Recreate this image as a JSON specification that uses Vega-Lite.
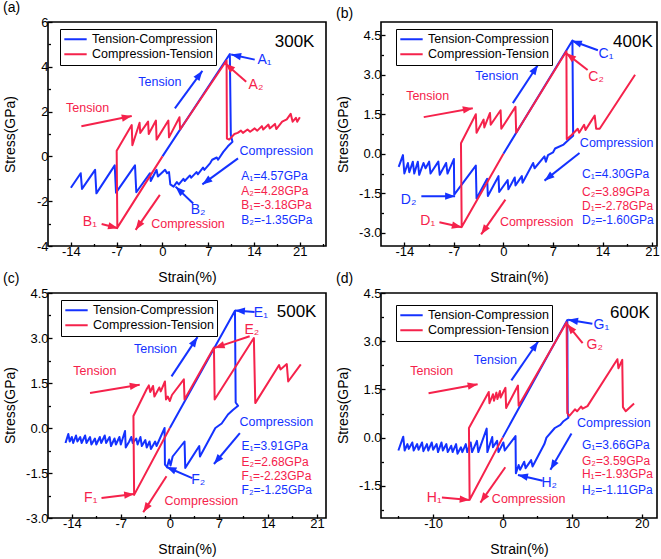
{
"$schema": "https://vega.github.io/schema/vega-lite/v6.json",
"padding": {"left": 2, "top": 0, "right": 0, "bottom": 0},
"bounds": "flush",
"columns": 2,
"spacing": {"row": 47, "column": 55},
"resolve": {"scale": {"color": "independent"}, "legend": {"color": "independent"}},
"config": {
  "font": "Liberation Sans",
  "view": {"stroke": "black", "strokeWidth": 1.6},
  "axis": {"grid": false, "domain": false, "tickColor": "black", "tickSize": -4, "tickWidth": 1.3, "labelFontSize": 13, "labelColor": "black", "titleFontSize": 14, "titleFontWeight": "normal", "titleColor": "black", "labelPadding": 4},
  "axisX": {"titlePadding": 12, "labelPadding": 3},
  "axisY": {"titleX": -38, "titleY": 112, "titleBaseline": "middle", "titleAlign": "center", "titleAngle": -90},
  "title": {"fontSize": 14, "fontWeight": "normal", "color": "black", "anchor": "start", "frame": "group", "dx": -45, "offset": 1},
  "legend": {"title": null, "orient": "none", "strokeColor": "black", "fillColor": "white", "padding": 3, "labelFontSize": 12.5, "labelColor": "black", "symbolType": "stroke", "symbolSize": 500, "symbolStrokeWidth": 2, "clipHeight": 14.5, "rowPadding": 0, "labelOffset": 4}
},
"datasets": {
"la": [
{"s":"TC","x":-14,"y":-1.4},{"s":"TC","x":-12.5,"y":-0.75},{"s":"TC","x":-12.3,"y":-1.45},{"s":"TC","x":-10.3,"y":-0.6},{"s":"TC","x":-10.1,"y":-1.65},{"s":"TC","x":-7.3,"y":-0.4},{"s":"TC","x":-7.1,"y":-1.62},{"s":"TC","x":-4.2,"y":-0.4},{"s":"TC","x":-4.0,"y":-1.6},{"s":"TC","x":-1.9,"y":-0.75},{"s":"TC","x":-1.8,"y":-1.1},{"s":"TC","x":-0.9,"y":-0.6},{"s":"TC","x":-0.7,"y":-0.9},{"s":"TC","x":0.4,"y":-0.6},{"s":"TC","x":0.7,"y":-0.75},{"s":"TC","x":1.0,"y":-0.7},{"s":"TC","x":1.2,"y":-1.25},{"s":"TC","x":1.7,"y":-1.35},{"s":"TC","x":2.2,"y":-1.15},{"s":"TC","x":2.5,"y":-1.25},{"s":"TC","x":3.2,"y":-1.0},{"s":"TC","x":3.4,"y":-1.1},{"s":"TC","x":4.2,"y":-0.85},{"s":"TC","x":4.4,"y":-0.95},{"s":"TC","x":5.2,"y":-0.7},{"s":"TC","x":5.4,"y":-0.8},{"s":"TC","x":6.2,"y":-0.5},{"s":"TC","x":6.4,"y":-0.6},{"s":"TC","x":7.3,"y":-0.3},{"s":"TC","x":7.6,"y":-0.15},{"s":"TC","x":8.3,"y":-0.05},{"s":"TC","x":8.5,"y":-0.15},{"s":"TC","x":9.3,"y":0.2},{"s":"TC","x":10.0,"y":0.45},{"s":"TC","x":10.7,"y":0.65},{"s":"TC","x":10.45,"y":0.95},{"s":"TC","x":10.3,"y":4.57},{"s":"TC","x":0,"y":0},
{"s":"CT","x":0,"y":0},{"s":"CT","x":-6.9,"y":-3.18},{"s":"CT","x":-7.0,"y":0.25},{"s":"CT","x":-4.7,"y":1.4},{"s":"CT","x":-4.6,"y":0.5},{"s":"CT","x":-3.5,"y":1.5},{"s":"CT","x":-3.4,"y":1.05},{"s":"CT","x":-2.2,"y":1.55},{"s":"CT","x":-2.1,"y":1.0},{"s":"CT","x":-1.0,"y":1.6},{"s":"CT","x":-0.9,"y":0.75},{"s":"CT","x":0.9,"y":1.6},{"s":"CT","x":1.0,"y":0.85},{"s":"CT","x":2.6,"y":1.75},{"s":"CT","x":2.7,"y":1.2},{"s":"CT","x":9.8,"y":4.28},{"s":"CT","x":9.85,"y":0.8},{"s":"CT","x":10.2,"y":0.75},{"s":"CT","x":11.0,"y":1.0},{"s":"CT","x":11.5,"y":1.05},{"s":"CT","x":12.0,"y":1.15},{"s":"CT","x":12.3,"y":1.05},{"s":"CT","x":13.0,"y":1.2},{"s":"CT","x":13.4,"y":1.1},{"s":"CT","x":14.1,"y":1.25},{"s":"CT","x":14.5,"y":1.15},{"s":"CT","x":15.2,"y":1.35},{"s":"CT","x":15.4,"y":1.2},{"s":"CT","x":16.2,"y":1.42},{"s":"CT","x":16.4,"y":1.25},{"s":"CT","x":17.2,"y":1.45},{"s":"CT","x":17.4,"y":1.22},{"s":"CT","x":18.3,"y":1.55},{"s":"CT","x":19.0,"y":1.65},{"s":"CT","x":19.6,"y":1.9},{"s":"CT","x":19.9,"y":1.55},{"s":"CT","x":20.4,"y":1.72},{"s":"CT","x":20.6,"y":1.55},{"s":"CT","x":21.0,"y":1.75}
],
"lb": [
{"s":"TC","x":-14.8,"y":-0.5},{"s":"TC","x":-14.2,"y":-0.05},{"s":"TC","x":-14.0,"y":-0.75},{"s":"TC","x":-13.5,"y":-0.35},{"s":"TC","x":-13.3,"y":-0.7},{"s":"TC","x":-12.8,"y":-0.3},{"s":"TC","x":-12.6,"y":-0.75},{"s":"TC","x":-12.1,"y":-0.3},{"s":"TC","x":-11.9,"y":-0.8},{"s":"TC","x":-11.3,"y":-0.35},{"s":"TC","x":-11.0,"y":-0.55},{"s":"TC","x":-10.5,"y":-0.3},{"s":"TC","x":-10.3,"y":-0.75},{"s":"TC","x":-9.2,"y":-0.3},{"s":"TC","x":-9.0,"y":-0.8},{"s":"TC","x":-8.1,"y":-0.35},{"s":"TC","x":-7.9,"y":-0.75},{"s":"TC","x":-7.0,"y":-0.2},{"s":"TC","x":-6.95,"y":-1.55},{"s":"TC","x":-3.9,"y":-0.45},{"s":"TC","x":-3.8,"y":-1.7},{"s":"TC","x":-2.3,"y":-0.95},{"s":"TC","x":-2.2,"y":-1.6},{"s":"TC","x":-0.7,"y":-0.85},{"s":"TC","x":-0.6,"y":-1.45},{"s":"TC","x":0.6,"y":-1.0},{"s":"TC","x":0.7,"y":-1.35},{"s":"TC","x":1.6,"y":-0.9},{"s":"TC","x":1.7,"y":-1.2},{"s":"TC","x":2.6,"y":-0.85},{"s":"TC","x":2.7,"y":-1.1},{"s":"TC","x":4.2,"y":-0.35},{"s":"TC","x":4.4,"y":-0.55},{"s":"TC","x":5.8,"y":-0.1},{"s":"TC","x":6.0,"y":-0.3},{"s":"TC","x":6.3,"y":-0.05},{"s":"TC","x":7.0,"y":0.05},{"s":"TC","x":7.3,"y":0.2},{"s":"TC","x":8.5,"y":0.35},{"s":"TC","x":9.3,"y":0.55},{"s":"TC","x":9.85,"y":0.68},{"s":"TC","x":9.75,"y":4.3},{"s":"TC","x":0,"y":0},
{"s":"CT","x":0,"y":0},{"s":"CT","x":-5.9,"y":-2.78},{"s":"CT","x":-6.0,"y":0.4},{"s":"CT","x":-3.9,"y":1.5},{"s":"CT","x":-3.8,"y":0.8},{"s":"CT","x":-2.8,"y":1.3},{"s":"CT","x":-2.7,"y":1.0},{"s":"CT","x":-1.9,"y":1.55},{"s":"CT","x":-1.8,"y":1.1},{"s":"CT","x":-0.4,"y":1.65},{"s":"CT","x":-0.3,"y":0.95},{"s":"CT","x":1.7,"y":1.78},{"s":"CT","x":1.8,"y":0.8},{"s":"CT","x":8.9,"y":3.89},{"s":"CT","x":8.95,"y":0.55},{"s":"CT","x":9.6,"y":0.7},{"s":"CT","x":10.5,"y":0.95},{"s":"CT","x":10.7,"y":0.8},{"s":"CT","x":11.4,"y":1.1},{"s":"CT","x":11.6,"y":0.9},{"s":"CT","x":12.3,"y":1.2},{"s":"CT","x":12.9,"y":1.45},{"s":"CT","x":13.1,"y":0.95},{"s":"CT","x":13.6,"y":0.95},{"s":"CT","x":18.6,"y":3.0}
],
"lc": [
{"s":"TC","x":-14.9,"y":-0.5},{"s":"TC","x":-14.5,"y":-0.2},{"s":"TC","x":-14.3,"y":-0.45},{"s":"TC","x":-14.0,"y":-0.3},{"s":"TC","x":-13.8,"y":-0.5},{"s":"TC","x":-13.4,"y":-0.25},{"s":"TC","x":-13.2,"y":-0.45},{"s":"TC","x":-12.8,"y":-0.3},{"s":"TC","x":-12.6,"y":-0.5},{"s":"TC","x":-12.1,"y":-0.25},{"s":"TC","x":-11.9,"y":-0.5},{"s":"TC","x":-11.4,"y":-0.3},{"s":"TC","x":-11.2,"y":-0.55},{"s":"TC","x":-10.7,"y":-0.35},{"s":"TC","x":-10.5,"y":-0.55},{"s":"TC","x":-10.0,"y":-0.3},{"s":"TC","x":-9.8,"y":-0.5},{"s":"TC","x":-9.3,"y":-0.25},{"s":"TC","x":-9.1,"y":-0.5},{"s":"TC","x":-8.6,"y":-0.3},{"s":"TC","x":-8.4,"y":-0.6},{"s":"TC","x":-7.9,"y":-0.35},{"s":"TC","x":-7.7,"y":-0.55},{"s":"TC","x":-7.2,"y":-0.3},{"s":"TC","x":-7.0,"y":-0.55},{"s":"TC","x":-6.4,"y":-0.1},{"s":"TC","x":-6.3,"y":-0.65},{"s":"TC","x":-5.8,"y":-0.45},{"s":"TC","x":-5.5,"y":-0.3},{"s":"TC","x":-5.3,"y":-0.5},{"s":"TC","x":-4.8,"y":-0.35},{"s":"TC","x":-4.6,"y":-0.55},{"s":"TC","x":-4.2,"y":-0.3},{"s":"TC","x":-4.0,"y":-0.6},{"s":"TC","x":-3.5,"y":-0.4},{"s":"TC","x":-3.3,"y":-0.65},{"s":"TC","x":-2.9,"y":-0.45},{"s":"TC","x":-2.7,"y":-0.7},{"s":"TC","x":-2.1,"y":-0.45},{"s":"TC","x":-1.9,"y":-0.6},{"s":"TC","x":-0.75,"y":0.0},{"s":"TC","x":-0.7,"y":-1.22},{"s":"TC","x":-0.4,"y":-1.3},{"s":"TC","x":-0.1,"y":-1.05},{"s":"TC","x":0.1,"y":-1.25},{"s":"TC","x":0.4,"y":-0.95},{"s":"TC","x":2.1,"y":-0.45},{"s":"TC","x":2.2,"y":-1.33},{"s":"TC","x":4.2,"y":-0.6},{"s":"TC","x":4.3,"y":-0.95},{"s":"TC","x":6.5,"y":0.0},{"s":"TC","x":7.1,"y":0.1},{"s":"TC","x":7.4,"y":0.15},{"s":"TC","x":8.3,"y":0.45},{"s":"TC","x":9.0,"y":0.6},{"s":"TC","x":9.75,"y":0.74},{"s":"TC","x":9.4,"y":0.85},{"s":"TC","x":9.3,"y":3.91},{"s":"TC","x":0,"y":0},
{"s":"CT","x":0,"y":0},{"s":"CT","x":-5.1,"y":-2.23},{"s":"CT","x":-5.2,"y":0.4},{"s":"CT","x":-3.3,"y":1.3},{"s":"CT","x":-3.0,"y":1.42},{"s":"CT","x":-2.8,"y":1.2},{"s":"CT","x":-2.4,"y":1.4},{"s":"CT","x":-2.2,"y":1.05},{"s":"CT","x":-1.5,"y":1.35},{"s":"CT","x":-1.3,"y":1.22},{"s":"CT","x":-0.7,"y":1.55},{"s":"CT","x":-0.55,"y":0.95},{"s":"CT","x":-0.3,"y":1.05},{"s":"CT","x":0.0,"y":0.9},{"s":"CT","x":0.3,"y":1.1},{"s":"CT","x":2.0,"y":1.62},{"s":"CT","x":2.1,"y":0.95},{"s":"CT","x":6.3,"y":2.68},{"s":"CT","x":6.4,"y":0.95},{"s":"CT","x":12.0,"y":3.0},{"s":"CT","x":12.2,"y":0.83},{"s":"CT","x":15.6,"y":2.1},{"s":"CT","x":15.8,"y":1.95},{"s":"CT","x":16.7,"y":2.13},{"s":"CT","x":16.9,"y":1.55},{"s":"CT","x":18.7,"y":2.12}
],
"ld": [
{"s":"TC","x":-15.0,"y":-0.4},{"s":"TC","x":-14.3,"y":0.03},{"s":"TC","x":-14.1,"y":-0.4},{"s":"TC","x":-13.7,"y":-0.2},{"s":"TC","x":-13.5,"y":-0.35},{"s":"TC","x":-13.0,"y":-0.15},{"s":"TC","x":-12.8,"y":-0.4},{"s":"TC","x":-12.3,"y":-0.2},{"s":"TC","x":-12.1,"y":-0.38},{"s":"TC","x":-11.6,"y":-0.15},{"s":"TC","x":-11.4,"y":-0.42},{"s":"TC","x":-10.9,"y":-0.2},{"s":"TC","x":-10.7,"y":-0.4},{"s":"TC","x":-10.2,"y":-0.15},{"s":"TC","x":-10.0,"y":-0.38},{"s":"TC","x":-9.5,"y":-0.2},{"s":"TC","x":-9.3,"y":-0.45},{"s":"TC","x":-8.8,"y":-0.15},{"s":"TC","x":-8.6,"y":-0.4},{"s":"TC","x":-8.1,"y":-0.2},{"s":"TC","x":-7.9,"y":-0.45},{"s":"TC","x":-7.4,"y":-0.25},{"s":"TC","x":-7.2,"y":-0.45},{"s":"TC","x":-6.7,"y":-0.2},{"s":"TC","x":-6.5,"y":-0.5},{"s":"TC","x":-6.0,"y":-0.3},{"s":"TC","x":-5.8,"y":-0.45},{"s":"TC","x":-5.3,"y":-0.2},{"s":"TC","x":-5.1,"y":-0.45},{"s":"TC","x":-4.6,"y":-0.15},{"s":"TC","x":-4.4,"y":-0.45},{"s":"TC","x":-3.7,"y":-0.1},{"s":"TC","x":-3.5,"y":-0.45},{"s":"TC","x":-2.3,"y":0.28},{"s":"TC","x":-2.2,"y":-0.45},{"s":"TC","x":-1.5,"y":0.02},{"s":"TC","x":-1.4,"y":-0.3},{"s":"TC","x":-0.8,"y":-0.1},{"s":"TC","x":-0.6,"y":-0.45},{"s":"TC","x":0.1,"y":-0.15},{"s":"TC","x":0.3,"y":-0.4},{"s":"TC","x":1.85,"y":0.05},{"s":"TC","x":1.9,"y":-1.11},{"s":"TC","x":2.3,"y":-0.85},{"s":"TC","x":2.5,"y":-1.0},{"s":"TC","x":3.1,"y":-0.75},{"s":"TC","x":3.3,"y":-0.95},{"s":"TC","x":4.1,"y":-0.7},{"s":"TC","x":4.3,"y":-0.9},{"s":"TC","x":6.0,"y":-0.2},{"s":"TC","x":6.3,"y":0.0},{"s":"TC","x":7.5,"y":0.3},{"s":"TC","x":8.3,"y":0.4},{"s":"TC","x":8.7,"y":0.5},{"s":"TC","x":9.45,"y":0.62},{"s":"TC","x":9.35,"y":0.85},{"s":"TC","x":9.3,"y":3.66},{"s":"TC","x":0,"y":0},
{"s":"CT","x":0,"y":0},{"s":"CT","x":-4.75,"y":-1.93},{"s":"CT","x":-4.85,"y":0.3},{"s":"CT","x":-2.0,"y":1.42},{"s":"CT","x":-1.9,"y":1.07},{"s":"CT","x":-1.4,"y":1.35},{"s":"CT","x":-1.25,"y":1.15},{"s":"CT","x":-0.9,"y":1.4},{"s":"CT","x":-0.75,"y":1.2},{"s":"CT","x":-0.4,"y":1.45},{"s":"CT","x":-0.3,"y":1.25},{"s":"CT","x":0.4,"y":1.55},{"s":"CT","x":0.5,"y":0.92},{"s":"CT","x":2.2,"y":1.62},{"s":"CT","x":2.3,"y":0.99},{"s":"CT","x":9.2,"y":3.59},{"s":"CT","x":9.3,"y":0.76},{"s":"CT","x":9.6,"y":0.68},{"s":"CT","x":10.4,"y":0.88},{"s":"CT","x":10.7,"y":0.82},{"s":"CT","x":11.3,"y":0.97},{"s":"CT","x":11.5,"y":0.9},{"s":"CT","x":12.2,"y":0.98},{"s":"CT","x":16.5,"y":2.44},{"s":"CT","x":16.65,"y":2.16},{"s":"CT","x":17.2,"y":2.42},{"s":"CT","x":17.3,"y":0.95},{"s":"CT","x":17.7,"y":0.82},{"s":"CT","x":18.9,"y":1.06}
],
"aa": [
{"s":"b","x":10.5,"y":4.55,"x0":14.1,"y0":4.32},
{"s":"r","x":9.6,"y":4.15,"x0":12.8,"y0":3.33},
{"s":"b","x":6.1,"y":3.82,"x0":1.9,"y0":2.14},
{"s":"r","x":-4.7,"y":1.8,"x0":-12.4,"y0":1.35},
{"s":"b","x":6.1,"y":-1.25,"x0":11.55,"y0":-0.09},
{"s":"b","x":2.0,"y":-1.35,"x0":4.7,"y0":-2.1},
{"s":"r","x":-6.8,"y":-3.21,"x0":-9.3,"y0":-3.02},
{"s":"r","x":-4.1,"y":-3.28,"x0":-0.4,"y0":-1.72}
],
"ab": [
{"s":"b","x":9.67,"y":4.29,"x0":13.35,"y0":3.93},
{"s":"r","x":8.87,"y":3.81,"x0":11.9,"y0":3.18},
{"s":"b","x":4.87,"y":3.37,"x0":1.33,"y0":1.92},
{"s":"r","x":-4.33,"y":1.73,"x0":-11.26,"y0":1.39},
{"s":"b","x":5.8,"y":-1.02,"x0":10.75,"y0":0.03},
{"s":"b","x":-6.83,"y":-1.61,"x0":-11.6,"y0":-1.61},
{"s":"r","x":-5.88,"y":-2.79,"x0":-9.05,"y0":-2.6},
{"s":"r","x":-3.15,"y":-3.06,"x0":0.28,"y0":-1.74}
],
"ac": [
{"s":"b","x":9.3,"y":3.92,"x0":12.1,"y0":3.87},
{"s":"r","x":6.4,"y":2.67,"x0":11.4,"y0":3.06},
{"s":"b","x":3.95,"y":3.03,"x0":0.24,"y0":1.72},
{"s":"r","x":-4.3,"y":1.44,"x0":-11.4,"y0":1.17},
{"s":"b","x":6.3,"y":-1.2,"x0":10.0,"y0":-0.17},
{"s":"b","x":-0.48,"y":-1.3,"x0":3.2,"y0":-1.67},
{"s":"r","x":-5.1,"y":-2.2,"x0":-9.76,"y0":-2.33},
{"s":"r","x":-3.8,"y":-2.81,"x0":-0.48,"y0":-1.61}
],
"ad": [
{"s":"b","x":9.41,"y":3.67,"x0":12.9,"y0":3.54},
{"s":"r","x":9.27,"y":3.53,"x0":11.5,"y0":2.94},
{"s":"b","x":5.1,"y":2.99,"x0":1.25,"y0":1.78},
{"s":"r","x":-3.6,"y":1.66,"x0":-10.66,"y0":1.38},
{"s":"b","x":6.87,"y":-1.0,"x0":9.9,"y0":0.13},
{"s":"b","x":2.2,"y":-1.16,"x0":5.76,"y0":-1.34},
{"s":"r","x":-4.75,"y":-1.94,"x0":-8.74,"y0":-1.86},
{"s":"r","x":-3.2,"y":-2.02,"x0":0.38,"y0":-0.92}
],
"ta": [
{"k":"T","s":"k","t":"300K","x":20.2,"y":5.11},
{"k":"L","s":"b","t":"A₁","x":15.6,"y":4.29},
{"k":"L","s":"r","t":"A₂","x":14.3,"y":3.2},
{"k":"P","s":"b","t":"Tension","x":-0.4,"y":3.33},
{"k":"P","s":"r","t":"Tension","x":-11.45,"y":2.18},
{"k":"P","s":"b","t":"Compression","x":17.4,"y":0.25},
{"k":"L","s":"b","t":"B₂","x":5.45,"y":-2.39},
{"k":"L","s":"r","t":"B₁","x":-11.1,"y":-2.91},
{"k":"P","s":"r","t":"Compression","x":3.9,"y":-3.03},
{"k":"V","s":"b","t":"A₁=4.57GPa","x":12.06,"y":-0.86},
{"k":"V","s":"r","t":"A₂=4.28GPa","x":12.06,"y":-1.53},
{"k":"V","s":"r","t":"B₁=-3.18GPa","x":12.06,"y":-2.19},
{"k":"V","s":"b","t":"B₂=-1.35GPa","x":12.06,"y":-2.84}
],
"tb": [
{"k":"T","s":"k","t":"400K","x":18.3,"y":4.25},
{"k":"L","s":"b","t":"C₁","x":14.5,"y":3.78},
{"k":"L","s":"r","t":"C₂","x":13.1,"y":2.93},
{"k":"P","s":"b","t":"Tension","x":-0.93,"y":2.95},
{"k":"P","s":"r","t":"Tension","x":-10.7,"y":2.19},
{"k":"P","s":"b","t":"Compression","x":16.0,"y":0.4},
{"k":"L","s":"b","t":"D₂","x":-13.4,"y":-1.74},
{"k":"L","s":"r","t":"D₁","x":-10.7,"y":-2.56},
{"k":"P","s":"r","t":"Compression","x":4.7,"y":-2.6},
{"k":"V","s":"b","t":"C₁=4.30GPa","x":11.1,"y":-0.77},
{"k":"V","s":"r","t":"C₂=3.89GPa","x":11.1,"y":-1.45},
{"k":"V","s":"r","t":"D₁=-2.78GPa","x":11.1,"y":-1.99},
{"k":"V","s":"b","t":"D₂=-1.60GPa","x":11.1,"y":-2.5}
],
"tc": [
{"k":"T","s":"k","t":"500K","x":18.1,"y":3.87},
{"k":"L","s":"b","t":"E₁","x":13.0,"y":3.83},
{"k":"L","s":"r","t":"E₂","x":11.7,"y":3.28},
{"k":"P","s":"b","t":"Tension","x":-2.05,"y":2.63},
{"k":"P","s":"r","t":"Tension","x":-10.7,"y":1.91},
{"k":"P","s":"b","t":"Compression","x":15.2,"y":0.19},
{"k":"L","s":"b","t":"F₂","x":4.05,"y":-1.72},
{"k":"L","s":"r","t":"F₁","x":-11.3,"y":-2.33},
{"k":"P","s":"r","t":"Compression","x":4.5,"y":-2.44},
{"k":"V","s":"b","t":"E₁=3.91GPa","x":10.24,"y":-0.61},
{"k":"V","s":"r","t":"E₂=2.68GPa","x":10.24,"y":-1.12},
{"k":"V","s":"r","t":"F₁=-2.23GPa","x":10.24,"y":-1.61},
{"k":"V","s":"b","t":"F₂=-1.25GPa","x":10.24,"y":-2.08}
],
"td": [
{"k":"T","s":"k","t":"600K","x":18.3,"y":3.89},
{"k":"L","s":"b","t":"G₁","x":14.2,"y":3.51},
{"k":"L","s":"r","t":"G₂","x":13.25,"y":2.89},
{"k":"P","s":"b","t":"Tension","x":-1.06,"y":2.42},
{"k":"P","s":"r","t":"Tension","x":-10.2,"y":2.08},
{"k":"P","s":"b","t":"Compression","x":16.0,"y":0.47},
{"k":"L","s":"b","t":"H₂","x":6.7,"y":-1.4},
{"k":"L","s":"r","t":"H₁","x":-9.84,"y":-1.89},
{"k":"P","s":"r","t":"Compression","x":3.74,"y":-1.92},
{"k":"V","s":"b","t":"G₁=3.66GPa","x":11.4,"y":-0.23},
{"k":"V","s":"r","t":"G₂=3.59GPa","x":11.4,"y":-0.72},
{"k":"V","s":"r","t":"H₁=-1.93GPa","x":11.4,"y":-1.14},
{"k":"V","s":"b","t":"H₂=-1.11GPa","x":11.4,"y":-1.63}
]
},
"concat": [
{
 "name": "pa", "width": 278, "height": 224,
 "title": {"text": "(a)"},
 "resolve": {"axis": {"x": "independent", "y": "independent"}},
 "encoding": {
  "x": {"field": "x", "type": "quantitative", "scale": {"domain": [-17.5, 25], "nice": false, "zero": false}, "axis": null},
  "y": {"field": "y", "type": "quantitative", "scale": {"domain": [-4, 6], "nice": false, "zero": false}, "axis": null}
 },
 "layer": [
  {"data": {"name": "la"}, "mark": {"type": "line", "strokeWidth": 2, "strokeJoin": "round"}, "encoding": {
    "x": {"field": "x", "type": "quantitative", "scale": {"domain": [-17.5, 25], "nice": false, "zero": false}, "axis": {"orient": "bottom", "title": "Strain(%)", "values": [-14, -7, 0, 7, 14, 21], "labelExpr": "replace(datum.label, '−', '-')"}},
    "y": {"field": "y", "type": "quantitative", "scale": {"domain": [-4, 6], "nice": false, "zero": false}, "axis": {"orient": "left", "title": "Stress(GPa)", "values": [-4, -2, 0, 2, 4, 6], "labelExpr": "replace(datum.label, '−', '-')"}},
    "order": {"value": null}, "color": {"field": "s", "type": "nominal", "scale": {"domain": ["TC", "CT"], "range": ["#1432ff", "#f5224b"]}, "legend": {"legendX": 12, "legendY": 7, "labelExpr": "datum.label == 'TC' ? 'Tension-Compression' : 'Compression-Tension'"}}}},
  {"data": {"name": "aa"}, "mark": {"type": "rule", "strokeWidth": 2}, "encoding": {"x2": {"field": "x0"}, "y2": {"field": "y0"}, "color": {"condition": {"test": "datum.s === 'b'", "value": "#1432ff"}, "value": "#f5224b"}}},
  {"data": {"name": "aa"}, "transform": [{"calculate": "atan2((datum.x - datum.x0) * 6.541, (datum.y - datum.y0) * 22.4) * 180 / PI", "as": "ang"}], "mark": {"type": "point", "shape": "M0,0L0.7,1.9L-0.7,1.9Z", "filled": true, "size": 110, "opacity": 1}, "encoding": {"angle": {"field": "ang", "type": "quantitative", "scale": null}, "color": {"condition": {"test": "datum.s === 'b'", "value": "#1432ff"}, "value": "#f5224b"}}},
  {"data": {"name": "ta"}, "transform": [{"filter": "datum.k !== 'V'"}], "mark": {"type": "text"}, "encoding": {"text": {"field": "t"}, "size": {"condition": [{"test": "datum.k === 'T'", "value": 17}, {"test": "datum.k === 'L'", "value": 14}], "value": 12.5}, "color": {"condition": [{"test": "datum.s === 'b'", "value": "#1432ff"}, {"test": "datum.s === 'r'", "value": "#f5224b"}], "value": "black"}}},
  {"data": {"name": "ta"}, "transform": [{"filter": "datum.k === 'V'"}], "mark": {"type": "text", "align": "left", "fontSize": 12}, "encoding": {
    "x": {"field": "x", "type": "quantitative", "scale": {"domain": [-17.5, 25], "nice": false, "zero": false}, "axis": {"orient": "bottom", "title": null, "labels": false, "tickSize": -2.5, "values": [-10.5, -3.5, 3.5, 10.5, 17.5, 24.5]}},
    "y": {"field": "y", "type": "quantitative", "scale": {"domain": [-4, 6], "nice": false, "zero": false}, "axis": {"orient": "left", "title": null, "labels": false, "tickSize": -2.5, "values": [-3, -1, 1, 3, 5]}},
    "text": {"field": "t"}, "color": {"condition": {"test": "datum.s === 'b'", "value": "#1432ff"}, "value": "#f5224b"}}}
 ]
},
{
 "name": "pb", "width": 276, "height": 224,
 "title": {"text": "(b)"},
 "resolve": {"axis": {"x": "independent", "y": "independent"}},
 "encoding": {
  "x": {"field": "x", "type": "quantitative", "scale": {"domain": [-17.3, 21.7], "nice": false, "zero": false}, "axis": null},
  "y": {"field": "y", "type": "quantitative", "scale": {"domain": [-3.5, 5], "nice": false, "zero": false}, "axis": null}
 },
 "layer": [
  {"data": {"name": "lb"}, "mark": {"type": "line", "strokeWidth": 2, "strokeJoin": "round"}, "encoding": {
    "x": {"field": "x", "type": "quantitative", "scale": {"domain": [-17.3, 21.7], "nice": false, "zero": false}, "axis": {"orient": "bottom", "title": "Strain(%)", "values": [-14, -7, 0, 7, 14, 21], "labelExpr": "replace(datum.label, '−', '-')"}},
    "y": {"field": "y", "type": "quantitative", "scale": {"domain": [-3.5, 5], "nice": false, "zero": false}, "axis": {"orient": "left", "title": "Stress(GPa)", "values": [-3, -1.5, 0, 1.5, 3, 4.5], "labelExpr": "replace(format(datum.value, '.1f'), '−', '-')"}},
    "order": {"value": null}, "color": {"field": "s", "type": "nominal", "scale": {"domain": ["TC", "CT"], "range": ["#1432ff", "#f5224b"]}, "legend": {"legendX": 15, "legendY": 7, "labelExpr": "datum.label == 'TC' ? 'Tension-Compression' : 'Compression-Tension'"}}}},
  {"data": {"name": "ab"}, "mark": {"type": "rule", "strokeWidth": 2}, "encoding": {"x2": {"field": "x0"}, "y2": {"field": "y0"}, "color": {"condition": {"test": "datum.s === 'b'", "value": "#1432ff"}, "value": "#f5224b"}}},
  {"data": {"name": "ab"}, "transform": [{"calculate": "atan2((datum.x - datum.x0) * 7.077, (datum.y - datum.y0) * 26.35) * 180 / PI", "as": "ang"}], "mark": {"type": "point", "shape": "M0,0L0.7,1.9L-0.7,1.9Z", "filled": true, "size": 110, "opacity": 1}, "encoding": {"angle": {"field": "ang", "type": "quantitative", "scale": null}, "color": {"condition": {"test": "datum.s === 'b'", "value": "#1432ff"}, "value": "#f5224b"}}},
  {"data": {"name": "tb"}, "transform": [{"filter": "datum.k !== 'V'"}], "mark": {"type": "text"}, "encoding": {"text": {"field": "t"}, "size": {"condition": [{"test": "datum.k === 'T'", "value": 17}, {"test": "datum.k === 'L'", "value": 14}], "value": 12.5}, "color": {"condition": [{"test": "datum.s === 'b'", "value": "#1432ff"}, {"test": "datum.s === 'r'", "value": "#f5224b"}], "value": "black"}}},
  {"data": {"name": "tb"}, "transform": [{"filter": "datum.k === 'V'"}], "mark": {"type": "text", "align": "left", "fontSize": 12}, "encoding": {
    "x": {"field": "x", "type": "quantitative", "scale": {"domain": [-17.3, 21.7], "nice": false, "zero": false}, "axis": {"orient": "bottom", "title": null, "labels": false, "tickSize": -2.5, "values": [-10.5, -3.5, 3.5, 10.5, 17.5]}},
    "y": {"field": "y", "type": "quantitative", "scale": {"domain": [-3.5, 5], "nice": false, "zero": false}, "axis": {"orient": "left", "title": null, "labels": false, "tickSize": -2.5, "values": [-2.25, -0.75, 0.75, 2.25, 3.75]}},
    "text": {"field": "t"}, "color": {"condition": {"test": "datum.s === 'b'", "value": "#1432ff"}, "value": "#f5224b"}}}
 ]
},
{
 "name": "pc", "width": 278, "height": 225,
 "title": {"text": "(c)"},
 "resolve": {"axis": {"x": "independent", "y": "independent"}},
 "encoding": {
  "x": {"field": "x", "type": "quantitative", "scale": {"domain": [-17.4, 22.3], "nice": false, "zero": false}, "axis": null},
  "y": {"field": "y", "type": "quantitative", "scale": {"domain": [-3, 4.5], "nice": false, "zero": false}, "axis": null}
 },
 "layer": [
  {"data": {"name": "lc"}, "mark": {"type": "line", "strokeWidth": 2, "strokeJoin": "round"}, "encoding": {
    "x": {"field": "x", "type": "quantitative", "scale": {"domain": [-17.4, 22.3], "nice": false, "zero": false}, "axis": {"orient": "bottom", "title": "Strain(%)", "values": [-14, -7, 0, 7, 14, 21], "labelExpr": "replace(datum.label, '−', '-')"}},
    "y": {"field": "y", "type": "quantitative", "scale": {"domain": [-3, 4.5], "nice": false, "zero": false}, "axis": {"orient": "left", "title": "Stress(GPa)", "values": [-3, -1.5, 0, 1.5, 3, 4.5], "labelExpr": "replace(format(datum.value, '.1f'), '−', '-')"}},
    "order": {"value": null}, "color": {"field": "s", "type": "nominal", "scale": {"domain": ["TC", "CT"], "range": ["#1432ff", "#f5224b"]}, "legend": {"legendX": 13, "legendY": 7, "labelExpr": "datum.label == 'TC' ? 'Tension-Compression' : 'Compression-Tension'"}}}},
  {"data": {"name": "ac"}, "mark": {"type": "rule", "strokeWidth": 2}, "encoding": {"x2": {"field": "x0"}, "y2": {"field": "y0"}, "color": {"condition": {"test": "datum.s === 'b'", "value": "#1432ff"}, "value": "#f5224b"}}},
  {"data": {"name": "ac"}, "transform": [{"calculate": "atan2((datum.x - datum.x0) * 7.003, (datum.y - datum.y0) * 30) * 180 / PI", "as": "ang"}], "mark": {"type": "point", "shape": "M0,0L0.7,1.9L-0.7,1.9Z", "filled": true, "size": 110, "opacity": 1}, "encoding": {"angle": {"field": "ang", "type": "quantitative", "scale": null}, "color": {"condition": {"test": "datum.s === 'b'", "value": "#1432ff"}, "value": "#f5224b"}}},
  {"data": {"name": "tc"}, "transform": [{"filter": "datum.k !== 'V'"}], "mark": {"type": "text"}, "encoding": {"text": {"field": "t"}, "size": {"condition": [{"test": "datum.k === 'T'", "value": 17}, {"test": "datum.k === 'L'", "value": 14}], "value": 12.5}, "color": {"condition": [{"test": "datum.s === 'b'", "value": "#1432ff"}, {"test": "datum.s === 'r'", "value": "#f5224b"}], "value": "black"}}},
  {"data": {"name": "tc"}, "transform": [{"filter": "datum.k === 'V'"}], "mark": {"type": "text", "align": "left", "fontSize": 12}, "encoding": {
    "x": {"field": "x", "type": "quantitative", "scale": {"domain": [-17.4, 22.3], "nice": false, "zero": false}, "axis": {"orient": "bottom", "title": null, "labels": false, "tickSize": -2.5, "values": [-10.5, -3.5, 3.5, 10.5, 17.5]}},
    "y": {"field": "y", "type": "quantitative", "scale": {"domain": [-3, 4.5], "nice": false, "zero": false}, "axis": {"orient": "left", "title": null, "labels": false, "tickSize": -2.5, "values": [-2.25, -0.75, 0.75, 2.25, 3.75]}},
    "text": {"field": "t"}, "color": {"condition": {"test": "datum.s === 'b'", "value": "#1432ff"}, "value": "#f5224b"}}}
 ]
},
{
 "name": "pd", "width": 276, "height": 225,
 "title": {"text": "(d)"},
 "resolve": {"axis": {"x": "independent", "y": "independent"}},
 "encoding": {
  "x": {"field": "x", "type": "quantitative", "scale": {"domain": [-17.5, 22.2], "nice": false, "zero": false}, "axis": null},
  "y": {"field": "y", "type": "quantitative", "scale": {"domain": [-2.5, 4.5], "nice": false, "zero": false}, "axis": null}
 },
 "layer": [
  {"data": {"name": "ld"}, "mark": {"type": "line", "strokeWidth": 2, "strokeJoin": "round"}, "encoding": {
    "x": {"field": "x", "type": "quantitative", "scale": {"domain": [-17.5, 22.2], "nice": false, "zero": false}, "axis": {"orient": "bottom", "title": "Strain(%)", "values": [-10, 0, 10, 20], "labelExpr": "replace(datum.label, '−', '-')"}},
    "y": {"field": "y", "type": "quantitative", "scale": {"domain": [-2.5, 4.5], "nice": false, "zero": false}, "axis": {"orient": "left", "title": "Stress(GPa)", "values": [-1.5, 0, 1.5, 3, 4.5], "labelExpr": "replace(format(datum.value, '.1f'), '−', '-')"}},
    "order": {"value": null}, "color": {"field": "s", "type": "nominal", "scale": {"domain": ["TC", "CT"], "range": ["#1432ff", "#f5224b"]}, "legend": {"legendX": 15, "legendY": 12, "labelExpr": "datum.label == 'TC' ? 'Tension-Compression' : 'Compression-Tension'"}}}},
  {"data": {"name": "ad"}, "mark": {"type": "rule", "strokeWidth": 2}, "encoding": {"x2": {"field": "x0"}, "y2": {"field": "y0"}, "color": {"condition": {"test": "datum.s === 'b'", "value": "#1432ff"}, "value": "#f5224b"}}},
  {"data": {"name": "ad"}, "transform": [{"calculate": "atan2((datum.x - datum.x0) * 6.952, (datum.y - datum.y0) * 32.14) * 180 / PI", "as": "ang"}], "mark": {"type": "point", "shape": "M0,0L0.7,1.9L-0.7,1.9Z", "filled": true, "size": 110, "opacity": 1}, "encoding": {"angle": {"field": "ang", "type": "quantitative", "scale": null}, "color": {"condition": {"test": "datum.s === 'b'", "value": "#1432ff"}, "value": "#f5224b"}}},
  {"data": {"name": "td"}, "transform": [{"filter": "datum.k !== 'V'"}], "mark": {"type": "text"}, "encoding": {"text": {"field": "t"}, "size": {"condition": [{"test": "datum.k === 'T'", "value": 17}, {"test": "datum.k === 'L'", "value": 14}], "value": 12.5}, "color": {"condition": [{"test": "datum.s === 'b'", "value": "#1432ff"}, {"test": "datum.s === 'r'", "value": "#f5224b"}], "value": "black"}}},
  {"data": {"name": "td"}, "transform": [{"filter": "datum.k === 'V'"}], "mark": {"type": "text", "align": "left", "fontSize": 12}, "encoding": {
    "x": {"field": "x", "type": "quantitative", "scale": {"domain": [-17.5, 22.2], "nice": false, "zero": false}, "axis": {"orient": "bottom", "title": null, "labels": false, "tickSize": -2.5, "values": [-15, -5, 5, 15]}},
    "y": {"field": "y", "type": "quantitative", "scale": {"domain": [-2.5, 4.5], "nice": false, "zero": false}, "axis": {"orient": "left", "title": null, "labels": false, "tickSize": -2.5, "values": [-2.25, -0.75, 0.75, 2.25, 3.75]}},
    "text": {"field": "t"}, "color": {"condition": {"test": "datum.s === 'b'", "value": "#1432ff"}, "value": "#f5224b"}}}
 ]
}
]
}
